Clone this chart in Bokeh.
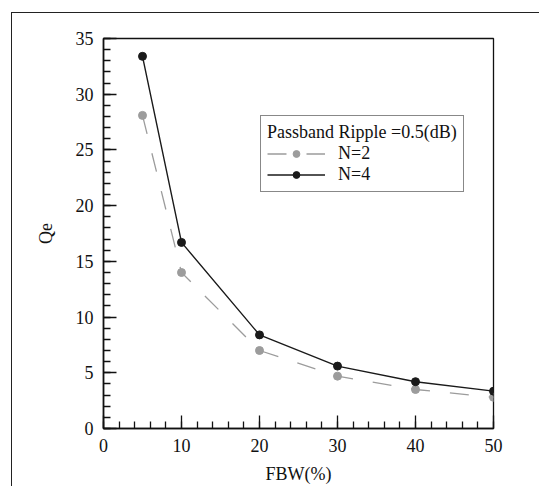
from bokeh.plotting import figure
from bokeh.models import Legend, LegendItem, SingleIntervalTicker, Range1d
from bokeh.embed import file_html
from bokeh.resources import INLINE

# Data
fbw = [5, 10, 20, 30, 40, 50]
qe_n2 = [28.1, 14.0, 7.0, 4.7, 3.5, 2.8]
qe_n4 = [33.4, 16.7, 8.4, 5.6, 4.2, 3.35]
legend_title = "Passband Ripple =0.5(dB)"
label_n2 = "N=2"
label_n4 = "N=4"

FONT = "Liberation Serif"
FS = "18px"

p = figure(frame_width=390, frame_height=390,
           min_border_left=91, min_border_right=46,
           min_border_top=25, min_border_bottom=58,
           x_range=Range1d(0, 50), y_range=Range1d(0, 35),
           output_backend="svg", toolbar_location=None,
           styles={"margin-left": "11px", "margin-top": "12px",
                   "border-left": "1px solid #222222",
                   "border-top": "1px solid #222222"})

p.xgrid.visible = False
p.ygrid.visible = False
p.background_fill_color = "white"
p.border_fill_color = "white"
p.outline_line_color = "#111111"
p.outline_line_width = 1.3

p.xaxis.ticker = SingleIntervalTicker(interval=10, num_minor_ticks=5)
p.yaxis.ticker = SingleIntervalTicker(interval=5, num_minor_ticks=5)

for ax in (p.xaxis[0], p.yaxis[0]):
    ax.axis_line_color = "#111111"
    ax.axis_line_width = 1.6
    ax.major_tick_in = 13
    ax.major_tick_out = 0
    ax.minor_tick_in = 7
    ax.minor_tick_out = 0
    ax.major_tick_line_color = "#111111"
    ax.minor_tick_line_color = "#111111"
    ax.major_tick_line_width = 1.3
    ax.minor_tick_line_width = 1.3
    ax.major_label_text_font = FONT
    ax.major_label_text_font_size = FS
    ax.major_label_text_color = "#111111"
    ax.axis_label_text_font = FONT
    ax.axis_label_text_font_size = FS
    ax.axis_label_text_font_style = "normal"
    ax.axis_label_text_color = "#111111"

p.xaxis.axis_label = "FBW(%)"
p.yaxis.axis_label = "Qe"
p.xaxis.major_label_standoff = 10
p.yaxis.major_label_standoff = 10
p.xaxis.axis_label_standoff = 9
p.yaxis.axis_label_standoff = 17

gray = "#9c9c9c"
black = "#1a1a1a"

l2 = p.line(fbw, qe_n2, line_color=gray, line_width=1.3, line_dash="19 20")
s2 = p.scatter(fbw, qe_n2, size=8, fill_color=gray, line_color=gray)
l4 = p.line(fbw, qe_n4, line_color=black, line_width=1.4)
s4 = p.scatter(fbw, qe_n4, size=8, fill_color=black, line_color=black)

legend = Legend(items=[LegendItem(label=label_n2, renderers=[l2, s2]),
                       LegendItem(label=label_n4, renderers=[l4, s4])],
                location=(157, 236), title=legend_title,
                title_text_font=FONT, title_text_font_size=FS,
                title_text_font_style="normal", title_text_color="#111111",
                label_text_font=FONT, label_text_font_size=FS,
                label_text_color="#111111",
                border_line_color="#111111", border_line_width=1.3,
                background_fill_color="white", background_fill_alpha=1,
                padding=6, spacing=-2, title_standoff=-4,
                glyph_width=58, glyph_height=17, label_height=17,
                label_standoff=13, margin=0)
p.add_layout(legend, "center")

open("out.html", "w").write(file_html(p, INLINE))
